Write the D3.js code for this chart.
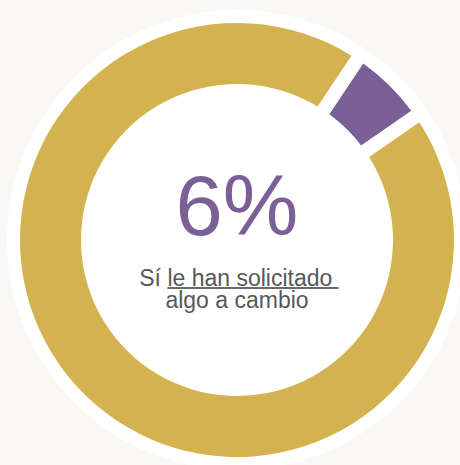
<!DOCTYPE html>
<html>
<head>
	<meta charset="utf-8">
	<title>Donut</title>
	<script src="https://cdnjs.cloudflare.com/ajax/libs/d3/7.8.5/d3.min.js"></script>
	<style type="text/css">
		body { margin: 0; background: #f9f8f4; }
		svg { display: block; }
		text { font-family: "Liberation Sans", Arial, sans-serif; }
	</style>
</head>
<body>
	<script type="text/javascript">
		// data
		var categories = ["Sí", "No"];
		var values = [6, 94];
		var colors = ["#7a6096", "#d4b24f"];
		var bigLabel = "6%";
		var captionLine1 = ["Sí ", "le han solicitado "];
		var captionLine2 = "algo a cambio";

		var width = 460;
		var height = 465;
		var cx = 237, cy = 240;
		var outerR = 217, innerR = 156;

		var svg = d3.select("body").append("svg")
			.attr("width", width)
			.attr("height", height);

		var g = svg.append("g")
			.attr("transform", "translate(" + cx + "," + cy + ")");

		// white ring behind the donut
		g.append("circle")
			.attr("r", 230)
			.attr("fill", "#ffffff");

		// purple slice sits around 45 degrees
		var start = (44.5 - 10.8) * Math.PI / 180;
		var pie = d3.pie()
			.sort(null)
			.value(function(d) { return d; })
			.startAngle(start)
			.endAngle(start + 2 * Math.PI);

		var arc = d3.arc()
			.innerRadius(innerR)
			.outerRadius(outerR)
			.padAngle(0.053);

		g.selectAll("path")
			.data(pie(values))
			.enter()
			.append("path")
			.attr("d", arc)
			.attr("fill", function(d, i) { return colors[i]; });

		// big number
		g.append("text")
			.attr("x", 0)
			.attr("y", -5)
			.attr("text-anchor", "middle")
			.attr("font-size", 85)
			.attr("fill", colors[0])
			.text(bigLabel);

		// caption
		var t1x = 2;
		var t1 = g.append("text")
			.attr("x", t1x)
			.attr("y", 46)
			.attr("text-anchor", "middle")
			.attr("font-size", 23)
			.attr("fill", "#58585a")
			.style("white-space", "pre");
		var s1 = t1.append("tspan").text(captionLine1[0]);
		t1.append("tspan").text(captionLine1[1]);

		// underline drawn by hand so it sits close to the baseline
		var total = t1.node().getComputedTextLength();
		var first = s1.node().getComputedTextLength();
		var x0 = t1x - total / 2;
		g.append("line")
			.attr("x1", x0 + first)
			.attr("x2", x0 + total)
			.attr("y1", 48)
			.attr("y2", 48)
			.attr("stroke", "#6a6a6a")
			.attr("stroke-width", 1.8);

		g.append("text")
			.attr("x", 0)
			.attr("y", 68)
			.attr("text-anchor", "middle")
			.attr("font-size", 23)
			.attr("fill", "#58585a")
			.text(captionLine2);
	</script>
</body>
</html>
